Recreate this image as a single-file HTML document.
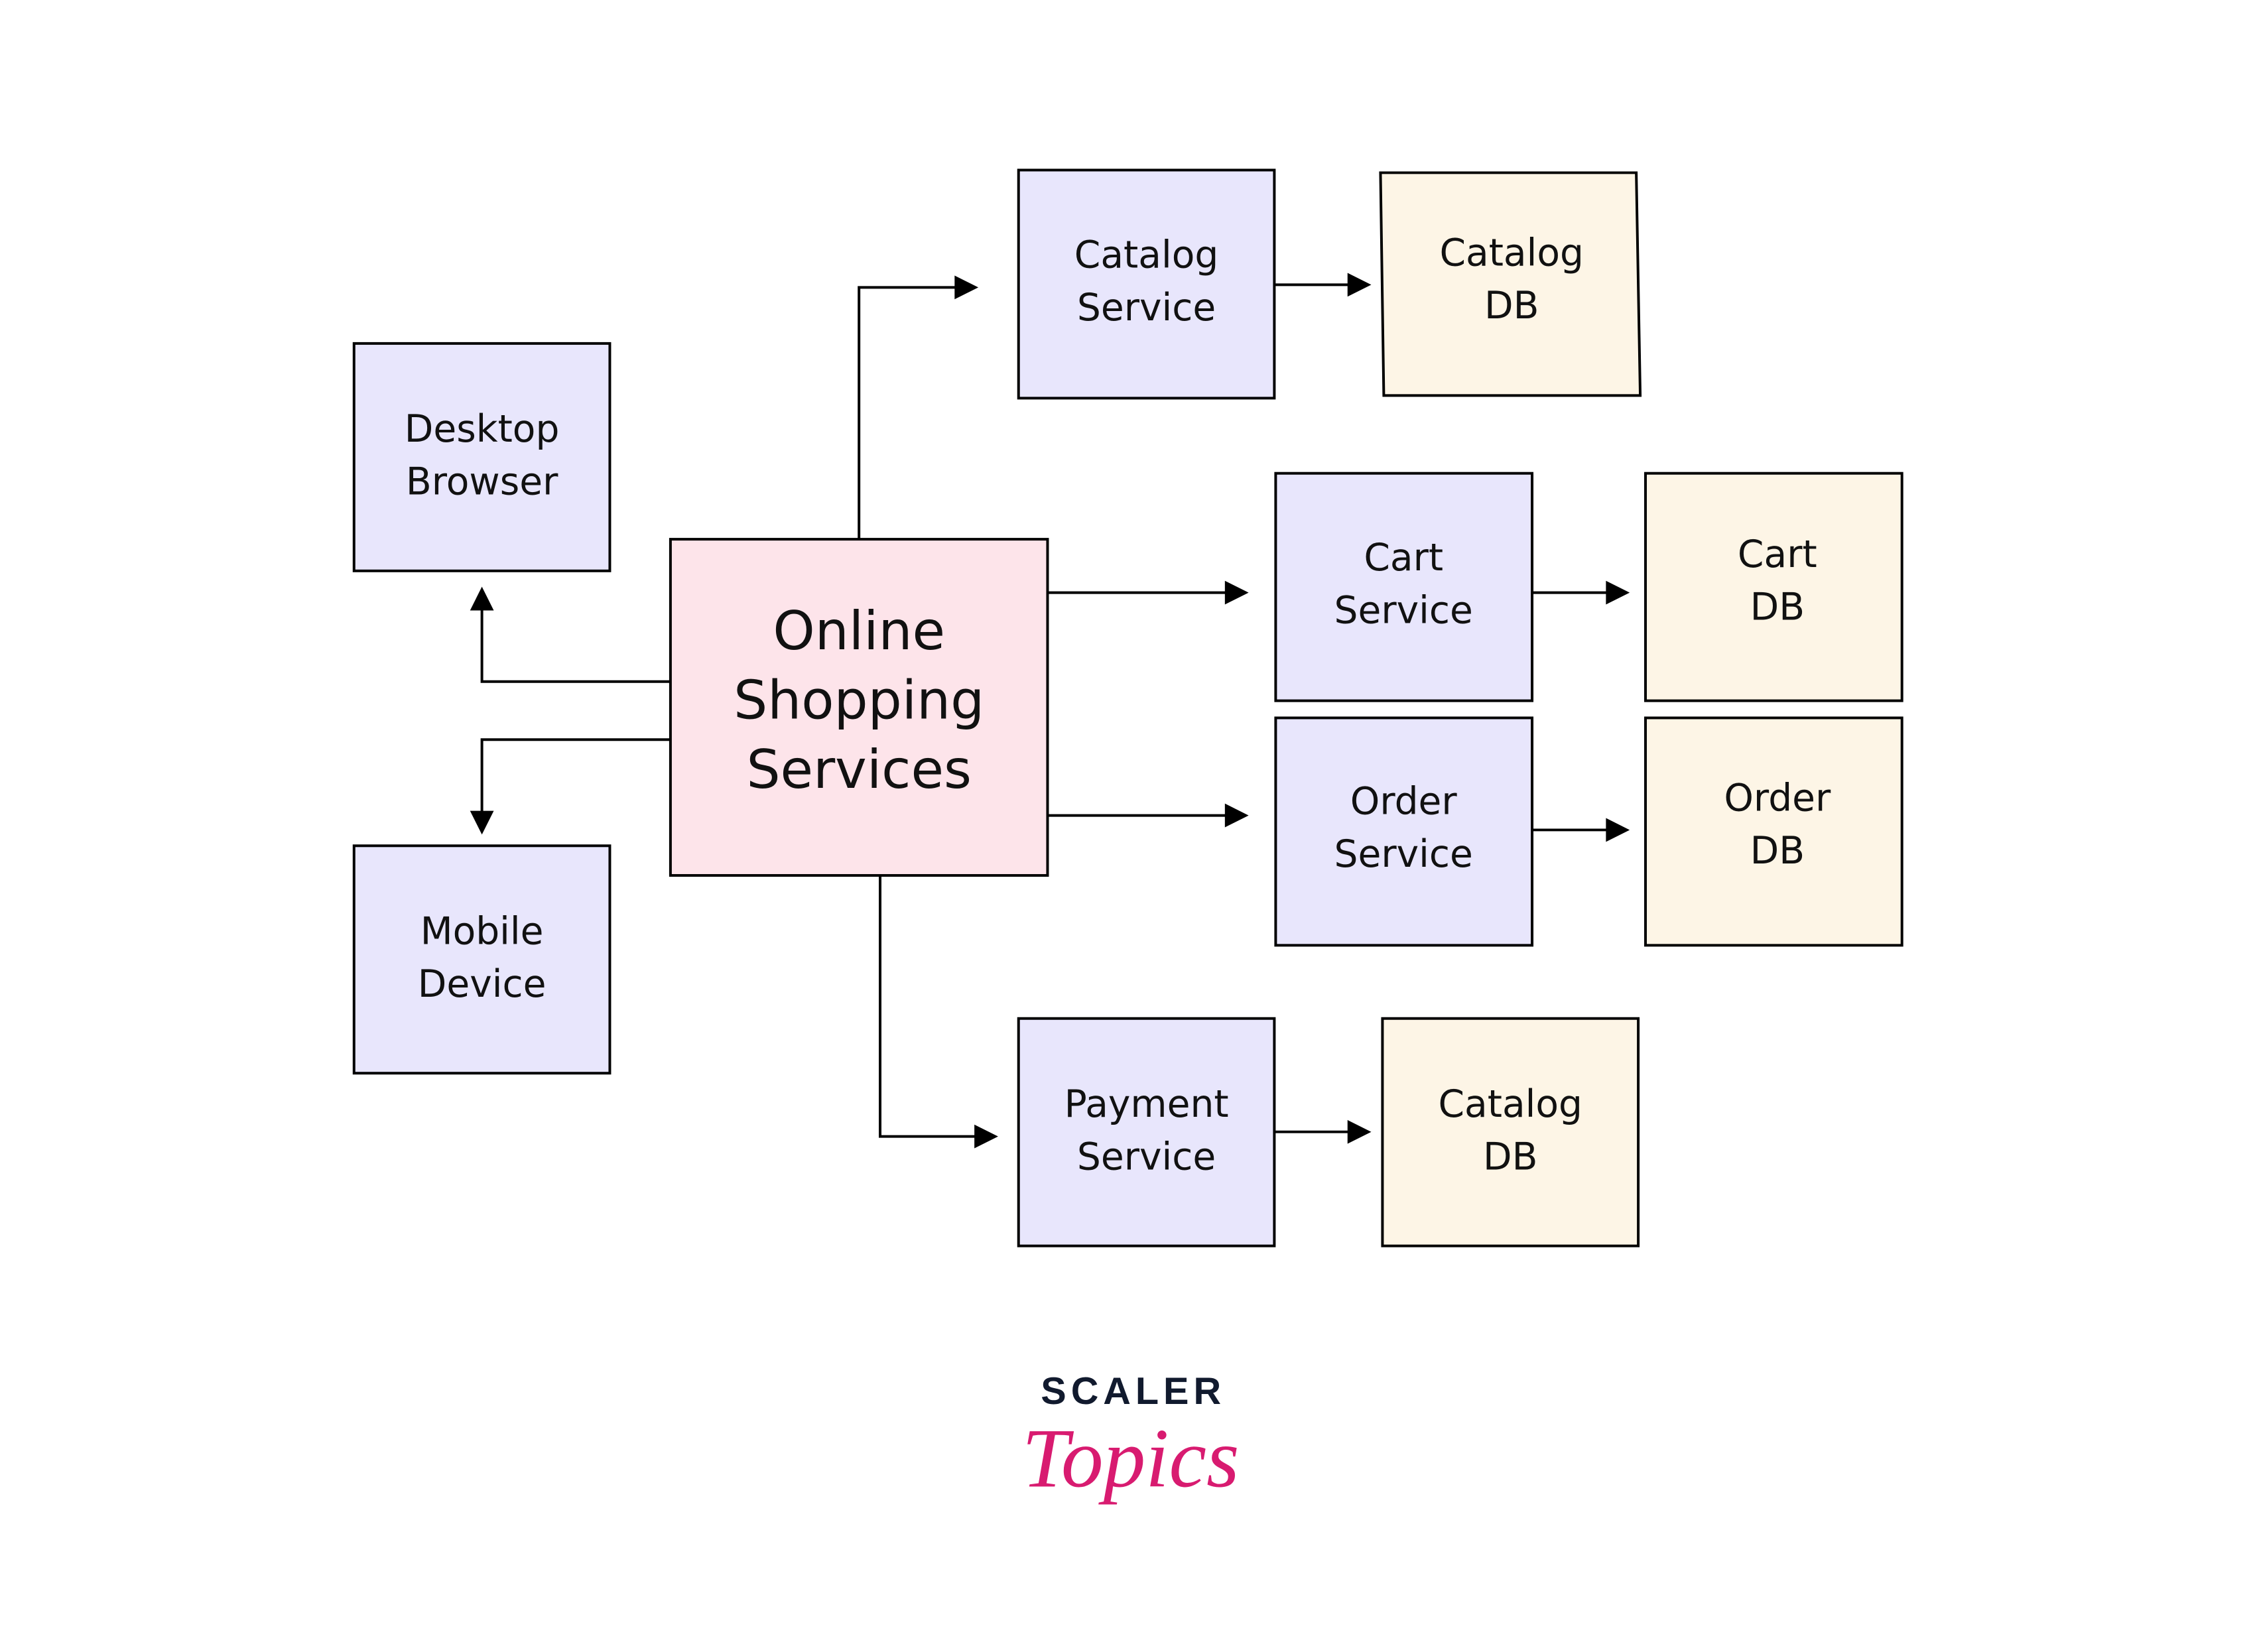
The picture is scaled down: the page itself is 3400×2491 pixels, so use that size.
<!DOCTYPE html>
<html><head><meta charset="utf-8"><style>
html,body{margin:0;padding:0;background:#fff;}
svg{display:block;}
text{font-family:"DejaVu Sans","Liberation Sans",sans-serif;fill:#111;}
</style></head><body>
<svg width="3400" height="2491" viewBox="0 0 3400 2491" xmlns="http://www.w3.org/2000/svg">
<g transform="scale(0.994)">
<g stroke="#000" stroke-width="4">
<rect x="1545" y="258" width="388" height="346" fill="#e8e6fc"/>
<polygon points="2094,262 2482,262 2488,600 2099,600" fill="#fdf5e6"/>
<rect x="537" y="521" width="388" height="345" fill="#e8e6fc"/>
<rect x="1017" y="818" width="572" height="510" fill="#fde4ea"/>
<rect x="1935" y="718" width="389" height="345" fill="#e8e6fc"/>
<rect x="2496" y="718" width="389" height="345" fill="#fdf5e6"/>
<rect x="1935" y="1089" width="389" height="345" fill="#e8e6fc"/>
<rect x="2496" y="1089" width="389" height="345" fill="#fdf5e6"/>
<rect x="537" y="1283" width="388" height="345" fill="#e8e6fc"/>
<rect x="1545" y="1545" width="388" height="345" fill="#e8e6fc"/>
<rect x="2097" y="1545" width="388" height="345" fill="#fdf5e6"/>
</g>
<g stroke="#000" stroke-width="4" fill="none">
<polyline points="1303,818 1303,436 1458,436"/>
<line x1="1933" y1="432" x2="2054" y2="432"/>
<line x1="1589" y1="899" x2="1868" y2="899"/>
<line x1="2324" y1="899" x2="2446" y2="899"/>
<line x1="1589" y1="1237" x2="1868" y2="1237"/>
<line x1="2324" y1="1259" x2="2446" y2="1259"/>
<polyline points="1017,1034 731,1034 731,916"/>
<polyline points="1017,1122 731,1122 731,1240"/>
<polyline points="1335,1328 1335,1724 1488,1724"/>
<line x1="1933" y1="1717" x2="2054" y2="1717"/>
</g>
<g fill="#000">
<path d="M1484,436 l-36,-18 v36z"/>
<path d="M2080,432 l-36,-18 v36z"/>
<path d="M1894,899 l-36,-18 v36z"/>
<path d="M2472,899 l-36,-18 v36z"/>
<path d="M1894,1237 l-36,-18 v36z"/>
<path d="M2472,1259 l-36,-18 v36z"/>
<path d="M731,890 l-18,36 h36z"/>
<path d="M731,1266 l-18,-36 h36z"/>
<path d="M1514,1724 l-36,-18 v36z"/>
<path d="M2080,1717 l-36,-18 v36z"/>
</g>
<g font-size="57" text-anchor="middle">
<text x="1739" y="406">Catalog</text><text x="1739" y="486">Service</text>
<text x="2293" y="403">Catalog</text><text x="2293" y="483">DB</text>
<text x="731" y="670">Desktop</text><text x="731" y="750">Browser</text>
<text x="2129" y="865">Cart</text><text x="2129" y="945">Service</text>
<text x="2696" y="860">Cart</text><text x="2696" y="940">DB</text>
<text x="2129" y="1235">Order</text><text x="2129" y="1315">Service</text>
<text x="2696" y="1230">Order</text><text x="2696" y="1310">DB</text>
<text x="731" y="1432">Mobile</text><text x="731" y="1512">Device</text>
<text x="1739" y="1694">Payment</text><text x="1739" y="1774">Service</text>
<text x="2291" y="1694">Catalog</text><text x="2291" y="1774">DB</text>
</g>
<g font-size="81" text-anchor="middle">
<text x="1303" y="985">Online</text><text x="1303" y="1090">Shopping</text><text x="1303" y="1195">Services</text>
</g>
<text x="1719" y="2130" font-size="58" font-weight="bold" text-anchor="middle" letter-spacing="7" style="fill:#111a2e;font-family:'Liberation Sans',sans-serif">SCALER</text>
<text x="1715" y="2255" font-size="128" font-style="italic" text-anchor="middle" style="fill:#d81b70;font-family:'Liberation Serif',serif">Topics</text>
</g>
</svg>
</body></html>
